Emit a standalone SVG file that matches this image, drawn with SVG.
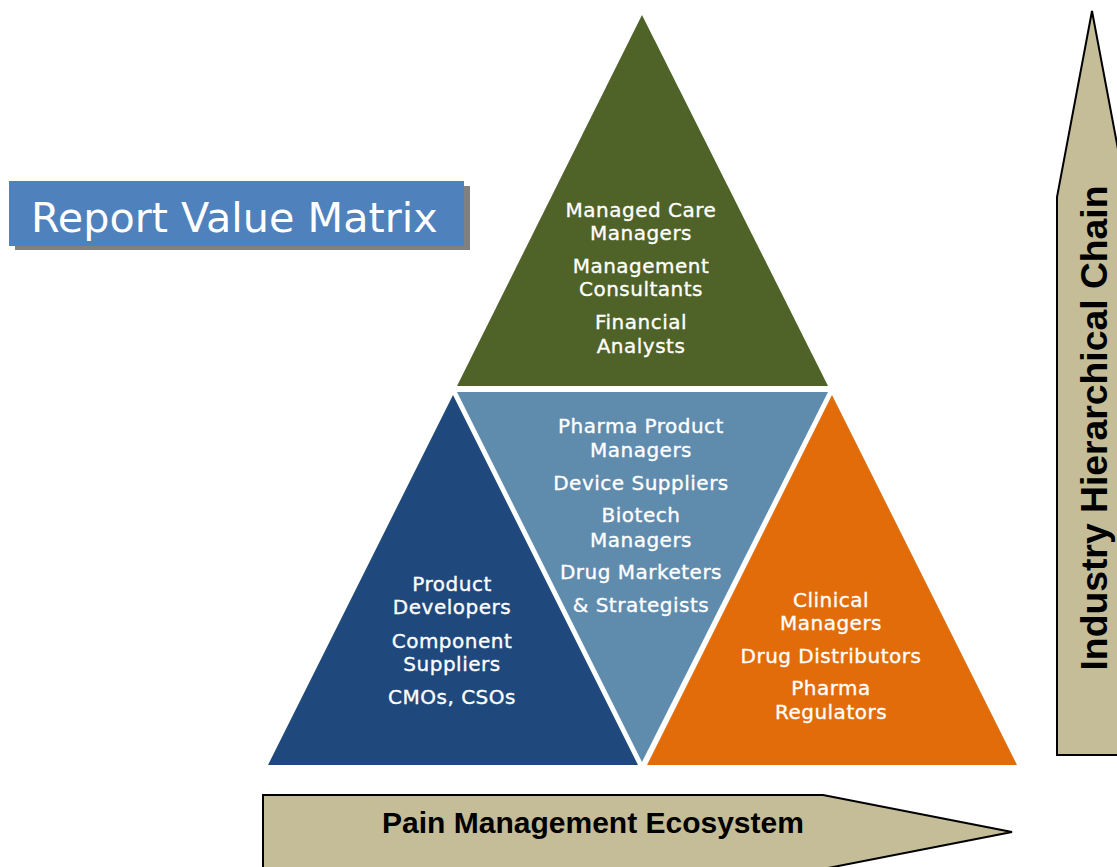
<svg xmlns="http://www.w3.org/2000/svg" width="1117" height="867" viewBox="0 0 1117 867">
<style>
.tt{font-family:"DejaVu Sans",Verdana,sans-serif;font-size:20px;letter-spacing:0.5px;fill:#fff;stroke:#fff;stroke-width:0.35;text-anchor:middle}
.tri{stroke:none}
.arrow{fill:#C4BD97;stroke:#000;stroke-width:2}
.lbl{font-family:"Liberation Sans",Arial,sans-serif;font-weight:bold;fill:#000;text-anchor:middle}
</style>
<rect width="1117" height="867" fill="#fff"/>
<g id="title">
<rect x="15" y="186" width="455" height="64" fill="#808080"/>
<rect x="9" y="181" width="455" height="65" fill="#4F81BD"/>
<text x="31" y="232" font-family="DejaVu Sans, Verdana, sans-serif" font-size="41.3" fill="#fff">Report Value Matrix</text>
</g>
<g id="axis-vertical">
<polygon class="arrow" points="1057,755 1057,197 1092,11 1127,197 1127,755"/>
<text class="lbl" font-size="37.3" transform="translate(1107,428) rotate(-90)">Industry Hierarchical Chain</text>
</g>
<g id="axis-horizontal">
<polygon class="arrow" points="263,869 263,795 823,795 1012,832 823,869"/>
<text class="lbl" font-size="30" x="593" y="833">Pain Management Ecosystem</text>
</g>
<g id="top">
<polygon class="tri" fill="#4F6228" points="642,15 457,386 828,386"/>
<text class="tt" x="641" y="217">Managed Care</text>
<text class="tt" x="641" y="240">Managers</text>
<text class="tt" x="641" y="273">Management</text>
<text class="tt" x="641" y="296">Consultants</text>
<text class="tt" x="641" y="329">Financial</text>
<text class="tt" x="641" y="353">Analysts</text>
</g>
<g id="middle">
<polygon class="tri" fill="#5F8BAD" points="457,392 828,392 642,762"/>
<text class="tt" x="641" y="433">Pharma Product</text>
<text class="tt" x="641" y="457">Managers</text>
<text class="tt" x="641" y="490">Device Suppliers</text>
<text class="tt" x="641" y="522">Biotech</text>
<text class="tt" x="641" y="547">Managers</text>
<text class="tt" x="641" y="579">Drug Marketers</text>
<text class="tt" x="641" y="612">&amp; Strategists</text>
</g>
<g id="left">
<polygon class="tri" fill="#1F497D" points="453,395 638,765 268,765"/>
<text class="tt" x="452" y="591">Product</text>
<text class="tt" x="452" y="614">Developers</text>
<text class="tt" x="452" y="648">Component</text>
<text class="tt" x="452" y="671">Suppliers</text>
<text class="tt" x="452" y="704">CMOs, CSOs</text>
</g>
<g id="right">
<polygon class="tri" fill="#E36C0A" points="832,395 1017,765 647,765"/>
<text class="tt" x="831" y="607">Clinical</text>
<text class="tt" x="831" y="630">Managers</text>
<text class="tt" x="831" y="663">Drug Distributors</text>
<text class="tt" x="831" y="695">Pharma</text>
<text class="tt" x="831" y="719">Regulators</text>
</g>
<g id="connectors"/>
</svg>
